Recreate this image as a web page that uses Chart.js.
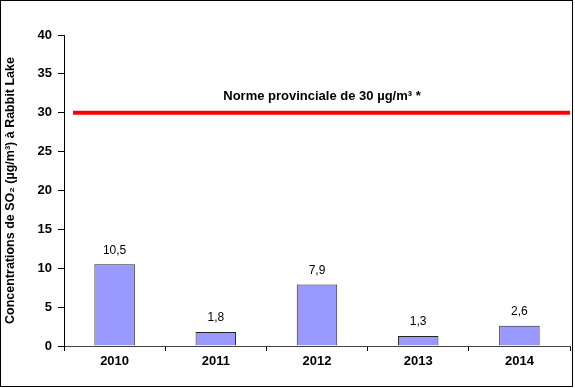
<!DOCTYPE html>
<html>
<head>
<meta charset="utf-8">
<script src="https://cdn.jsdelivr.net/npm/chart.js@4"></script>
<style>
    html, body { margin: 0; padding: 0; background: #fff; }
    #wrap { width: 575px; height: 388px; }
</style>
</head>
<body>
<div id="wrap"><canvas id="chart"></canvas></div>
<script>
const years = ['2010', '2011', '2012', '2013', '2014'];
const concentrations = [10.5, 1.8, 7.9, 1.3, 2.6];
const yTicks = [0, 5, 10, 15, 20, 25, 30, 35, 40];
const normValue = 30;
const normLabel = 'Norme provinciale de 30 µg/m³ *';
const yTitle = 'Concentrations de SO₂ (µg/m³) à Rabbit Lake';

const FONT = '"Liberation Sans", Arial, sans-serif';

const formatValue = (v) => v.toFixed(1).replace('.', ',');

const frame = {
    id: 'frame',
    afterDraw(chart) {
        const ctx = chart.ctx;
        ctx.save();
        ctx.strokeStyle = '#000';
        ctx.lineWidth = 1;
        ctx.strokeRect(0.5, 0.5, chart.width - 3, chart.height - 2);
        ctx.restore();
    }
};

const valueLabels = {
    id: 'valueLabels',
    afterDatasetsDraw(chart) {
        const ctx = chart.ctx;
        const meta = chart.getDatasetMeta(0);
        ctx.save();
        ctx.font = '12px ' + FONT;
        ctx.fillStyle = '#000';
        ctx.textAlign = 'center';
        ctx.textBaseline = 'middle';
        meta.data.forEach((bar, i) => {
            ctx.fillText(formatValue(concentrations[i]), bar.x, bar.y - 14);
        });
        ctx.restore();
    }
};

const normLine = {
    id: 'normLine',
    afterDatasetsDraw(chart) {
        const { ctx, chartArea, scales } = chart;
        const y = scales.y.getPixelForValue(normValue);
        ctx.save();
        ctx.strokeStyle = '#ff0000';
        ctx.lineWidth = 4;
        ctx.beginPath();
        ctx.moveTo(chartArea.left + 9, y);
        ctx.lineTo(chartArea.right, y);
        ctx.stroke();
        ctx.font = 'bold 13px ' + FONT;
        ctx.fillStyle = '#000';
        ctx.textAlign = 'center';
        ctx.textBaseline = 'middle';
        ctx.fillText(normLabel, (chartArea.left + chartArea.right) / 2 + 5, y - 16);
        ctx.restore();
    }
};

new Chart(document.getElementById('chart'), {
    type: 'bar',
    data: {
        labels: years,
        datasets: [{
            data: concentrations,
            backgroundColor: '#9999ff',
            borderColor: '#222',
            borderWidth: 1,
            categoryPercentage: 1,
            barPercentage: 0.4
        }]
    },
    options: {
        responsive: true,
        maintainAspectRatio: false,
        animation: false,
        devicePixelRatio: 1,
        layout: { padding: { left: 0, top: 35, right: 5, bottom: 0 } },
        plugins: {
            legend: { display: false },
            tooltip: { enabled: false }
        },
        scales: {
            x: {
                afterFit(scale) { scale.height = 42; },
                grid: {
                    drawOnChartArea: false,
                    offset: true,
                    tickLength: 5,
                    color: '#000'
                },
                border: { color: '#444', width: 1 },
                ticks: {
                    padding: 3,
                    color: '#000',
                    font: { family: FONT, size: 13, weight: 'bold' }
                }
            },
            y: {
                min: 0,
                max: 40,
                afterFit(scale) { scale.width = 64; },
                afterBuildTicks(scale) {
                    scale.ticks = yTicks.map((v) => ({ value: v }));
                },
                grid: {
                    drawOnChartArea: false,
                    tickLength: 6,
                    color: '#000'
                },
                border: { color: '#000', width: 1 },
                ticks: {
                    padding: 6,
                    color: '#000',
                    font: { family: FONT, size: 13, weight: 'bold' }
                },
                title: {
                    display: true,
                    text: yTitle,
                    color: '#000',
                    padding: { top: 3, bottom: 0 },
                    font: { family: FONT, size: 12.5, weight: 'bold' }
                }
            }
        }
    },
    plugins: [frame, valueLabels, normLine]
});
</script>
</body>
</html>
